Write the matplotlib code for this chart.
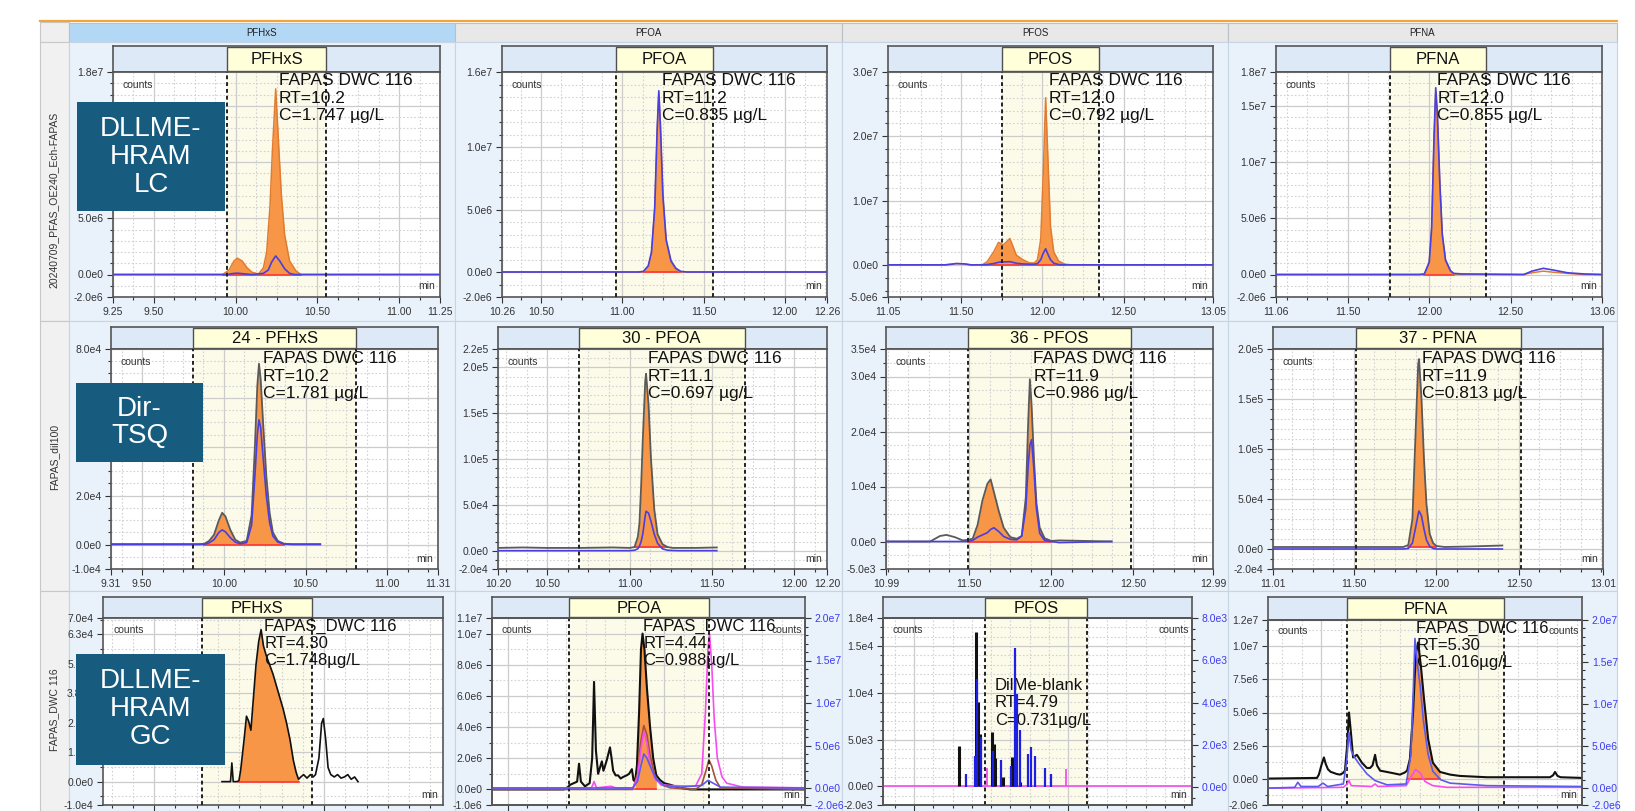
import numpy as np
import matplotlib.pyplot as plt
from matplotlib.patches import Rectangle
from matplotlib.ticker import FixedLocator, MultipleLocator, FuncFormatter, FormatStrFormatter

plt.rcParams['font.family'] = ['Liberation Sans', 'DejaVu Sans']

W, H = 1635, 811

# ---------------- text / labels ----------------
col_headers = ['PFHxS', 'PFOA', 'PFOS', 'PFNA']
row_headers = ['20240709_PFAS_OE240_Ech-FAPAS', 'FAPAS_dil100', 'FAPAS_DWC 116']
method_labels = ['DLLME-\nHRAM\nLC', 'Dir-\nTSQ', 'DLLME-\nHRAM\nGC']
panel_titles = [['PFHxS', 'PFOA', 'PFOS', 'PFNA'],
                ['24 - PFHxS', '30 - PFOA', '36 - PFOS', '37 - PFNA'],
                ['PFHxS', 'PFOA', 'PFOS', 'PFNA']]
sample_names = [['FAPAS DWC 116'] * 4,
                ['FAPAS DWC 116'] * 4,
                ['FAPAS_DWC 116', 'FAPAS_DWC 116', 'DilMe-blank', 'FAPAS_DWC 116']]
rt_labels = [['10.2', '11.2', '12.0', '12.0'],
             ['10.2', '11.1', '11.9', '11.9'],
             ['4.30', '4.44', '4.79', '5.30']]
conc_labels = [['1.747 µg/L', '0.835 µg/L', '0.792 µg/L', '0.855 µg/L'],
               ['1.781 µg/L', '0.697 µg/L', '0.986 µg/L', '0.813 µg/L'],
               ['1.748µg/L', '0.988µg/L', '0.731µg/L', '1.016µg/L']]

# ---------------- axes ranges ----------------
x_ranges = [[(9.25, 11.25), (10.26, 12.26), (11.05, 13.05), (11.06, 13.06)],
            [(9.31, 11.31), (10.20, 12.20), (10.99, 12.99), (11.01, 13.01)],
            [(3.85, 4.85), (3.95, 4.95), (4.40, 5.40), (4.83, 5.83)]]
x_ticks = [[[9.25, 9.50, 10.00, 10.50, 11.00, 11.25], [10.26, 10.50, 11.00, 11.50, 12.00, 12.26],
            [11.05, 11.50, 12.00, 12.50, 13.05], [11.06, 11.50, 12.00, 12.50, 13.06]],
           [[9.31, 9.50, 10.00, 10.50, 11.00, 11.31], [10.20, 10.50, 11.00, 11.50, 12.00, 12.20],
            [10.99, 11.50, 12.00, 12.50, 12.99], [11.01, 11.50, 12.00, 12.50, 13.01]],
           [[4.0, 4.5], [4.0, 4.5], [4.5, 5.0], [5.0, 5.5]]]
windows = [[(9.95, 10.55), (10.96, 11.56), (11.75, 12.35), (11.76, 12.35)],
           [(9.81, 10.81), (10.69, 11.70), (11.49, 12.49), (11.51, 12.51)],
           [(4.14, 4.465), (4.196, 4.643), (4.73, 5.06), (5.082, 5.582)]]
y_ranges = [[(-2e6, 1.8e7), (-2e6, 1.6e7), (-5e6, 3e7), (-2e6, 1.8e7)],
            [(-1e4, 8e4), (-2e4, 2.2e5), (-5e3, 3.5e4), (-2e4, 2e5)],
            [(-1e4, 7e4), (-1e6, 1.1e7), (-2e3, 1.8e4), (-2e6, 1.2e7)]]
y_ticks = [[[-2e6, 0, 5e6, 1e7, 1.5e7, 1.8e7], [-2e6, 0, 5e6, 1e7, 1.6e7],
            [-5e6, 0, 1e7, 2e7, 3e7], [-2e6, 0, 5e6, 1e7, 1.5e7, 1.8e7]],
           [[-1e4, 0, 2e4, 4e4, 6e4, 8e4], [-2e4, 0, 5e4, 1e5, 1.5e5, 2e5, 2.2e5],
            [-5e3, 0, 1e4, 2e4, 3e4, 3.5e4], [-2e4, 0, 5e4, 1e5, 1.5e5, 2e5]],
           [[-1e4, 0, 1.26e4, 2.52e4, 3.78e4, 5.04e4, 6.3e4, 7e4], [-1e6, 0, 2e6, 4e6, 6e6, 8e6, 1e7, 1.1e7],
            [-2e3, 0, 5e3, 1e4, 1.5e4, 1.8e4], [-2e6, 0, 2.5e6, 5e6, 7.5e6, 1e7, 1.2e7]]]
y_minor = [[1e6, 1e6, 2e6, 1e6], [5e3, 1e4, 2.5e3, 1e4], [6.3e3, 1e6, 1e3, 1.25e6]]
x_minor = [0.125, 0.125, 0.0625]
right_ranges = [None, (-2e6, 2e7), (-0.83e3, 8e3), (-2e6, 2e7)]
right_ticks = [None, [-2e6, 0, 5e6, 1e7, 1.5e7, 2e7], [0, 2e3, 4e3, 6e3, 8e3], [-2e6, 0, 5e6, 1e7, 1.5e7, 2e7]]
right_minor = [None, 1e6, 5e2, 1e6]

# integration windows (orange area) and their baselines
fill_ranges = [[(9.92, 10.40), (11.13, 11.36), (11.63, 12.14), (11.97, 12.15)],
               [(9.88, 10.37), (11.03, 11.23), (11.49, 12.00), (11.83, 12.00)],
               [(4.25, 4.425), (4.407, 4.475), None, (5.273, 5.378)]]
fill_base = [[0, 0, 0, 0], [0, 3.5e3, 0, 2e3], [0, 0, 0, 0]]

# ---------------- traces (time, intensity) ----------------
# row 1 : DLLME-HRAM LC  (units 1e6)
lc_pfhxs_q = np.array([(9.25, 0), (9.90, 0), (9.92, 0), (9.96, 0.4), (9.99, 1.2), (10.01, 1.45), (10.04, 1.2),
                       (10.07, 0.6), (10.10, 0.2), (10.14, 0.05), (10.17, 0.6), (10.19, 2.0), (10.21, 6.0),
                       (10.225, 11.0), (10.245, 16.5), (10.265, 11.0), (10.28, 7.0), (10.30, 3.5), (10.33, 1.2),
                       (10.37, 0.3), (10.40, 0), (10.42, 0), (11.25, 0)])
lc_pfhxs_i = np.array([(9.25, 0), (9.95, 0), (9.98, 0.08), (10.01, 0.12), (10.05, 0.06), (10.10, 0), (10.17, 0.1),
                       (10.20, 0.4), (10.22, 1.1), (10.245, 1.65), (10.27, 1.2), (10.30, 0.5), (10.33, 0.1),
                       (10.36, 0), (11.25, 0)])
lc_pfoa_q = np.array([(10.26, 0), (11.10, 0), (11.13, 0), (11.16, 0.4), (11.18, 1.5), (11.20, 5.0), (11.215, 11.0),
                      (11.225, 14.3), (11.235, 11.5), (11.25, 6.0), (11.27, 2.5), (11.30, 0.8), (11.33, 0.2),
                      (11.36, 0), (11.40, 0), (12.26, 0)])
lc_pfoa_i = np.array([(10.26, 0), (11.10, 0), (11.13, 0.05), (11.16, 0.5), (11.18, 1.6), (11.20, 5.2), (11.215, 11.5),
                      (11.225, 14.5), (11.235, 11.7), (11.25, 6.2), (11.27, 2.6), (11.30, 0.9), (11.33, 0.3),
                      (11.36, 0.05), (11.40, 0), (12.26, 0)])
lc_pfos_q = np.array([(11.05, 0), (11.40, 0), (11.44, 0.1), (11.47, 0.2), (11.52, 0.15), (11.56, 0), (11.63, 0),
                      (11.66, 0.5), (11.70, 2.0), (11.73, 3.5), (11.76, 3.1), (11.80, 4.1), (11.84, 1.5),
                      (11.88, 0.8), (11.92, 0.3), (11.95, 0.3), (11.97, 0.8), (11.99, 4.0), (12.005, 14.0),
                      (12.02, 26.0), (12.035, 16.0), (12.05, 6.0), (12.07, 2.0), (12.10, 0.6), (12.14, 0.1),
                      (12.18, 0), (13.05, 0)])
lc_pfos_i = np.array([(11.05, 0), (11.40, 0), (11.44, 0.1), (11.47, 0.2), (11.52, 0.15), (11.56, 0), (11.63, 0),
                      (11.66, 0.05), (11.70, 0.2), (11.73, 0.4), (11.76, 0.45), (11.80, 0.5), (11.84, 0.25),
                      (11.88, 0.15), (11.92, 0.1), (11.95, 0.1), (11.97, 0.2), (11.99, 0.8), (12.005, 1.8),
                      (12.02, 2.5), (12.035, 1.6), (12.05, 0.8), (12.07, 0.25), (12.10, 0.05), (12.14, 0),
                      (12.18, 0), (13.05, 0)])
lc_pfna_q = np.array([(11.06, 0), (11.94, 0), (11.97, 0), (12.00, 1.0), (12.015, 4.0), (12.03, 12.0), (12.04, 16.2),
                      (12.05, 14.0), (12.065, 8.0), (12.08, 3.5), (12.10, 1.2), (12.13, 0.3), (12.15, 0),
                      (12.20, 0), (12.58, 0), (12.63, 0.15), (12.70, 0.3), (12.76, 0.2), (12.85, 0.1),
                      (12.95, 0), (13.06, 0)])
lc_pfna_i = np.array([(11.06, 0), (11.94, 0), (11.97, 0.05), (12.00, 1.1), (12.015, 4.2), (12.03, 12.5),
                      (12.04, 16.6), (12.05, 14.3), (12.065, 8.2), (12.08, 3.6), (12.10, 1.3), (12.13, 0.35),
                      (12.15, 0.1), (12.20, 0.05), (12.58, 0), (12.63, 0.3), (12.70, 0.55), (12.76, 0.4),
                      (12.85, 0.15), (12.95, 0.05), (13.06, 0)])

# row 2 : Dir-TSQ  (units 1e3)
tsq_pfhxs_q = np.array([(9.31, 0.2), (9.60, 0.2), (9.85, 0.2), (9.88, 0.3), (9.91, 1.5), (9.94, 4), (9.97, 10),
                        (9.99, 13), (10.01, 11.5), (10.04, 6), (10.07, 2), (10.10, 0.8), (10.14, 1.5), (10.17, 12),
                        (10.19, 40), (10.205, 65), (10.215, 74), (10.225, 68), (10.24, 50), (10.26, 28),
                        (10.28, 13), (10.30, 5), (10.33, 1.5), (10.37, 0.3), (10.42, 0.2), (10.59, 0.2)])
tsq_pfhxs_i = np.array([(9.31, 0), (9.60, 0), (9.85, 0), (9.88, 0.1), (9.91, 0.7), (9.94, 2), (9.97, 5), (9.99, 6),
                        (10.01, 5.2), (10.04, 2.8), (10.07, 1), (10.10, 0.3), (10.14, 0.8), (10.17, 8), (10.19, 28),
                        (10.205, 45), (10.215, 51), (10.225, 48), (10.24, 36), (10.26, 20), (10.28, 9),
                        (10.30, 3.5), (10.33, 1), (10.37, 0.2), (10.42, 0), (10.59, 0)])
tsq_pfoa_q = np.array([(10.20, 3), (10.35, 3.5), (10.50, 3), (10.70, 3), (10.90, 3.5), (11.00, 3), (11.03, 4),
                       (11.05, 15), (11.06, 30), (11.07, 70), (11.08, 120), (11.095, 185), (11.10, 193),
                       (11.115, 160), (11.13, 100), (11.15, 45), (11.17, 18), (11.20, 7), (11.23, 4), (11.26, 3),
                       (11.30, 3), (11.40, 3), (11.53, 3.5)])
tsq_pfoa_i = np.array([(10.20, 0), (10.35, 0), (10.50, 0), (10.70, 0), (10.90, 0), (11.00, 0), (11.03, 0.5),
                       (11.05, 2), (11.06, 5), (11.07, 10), (11.08, 18), (11.095, 38), (11.10, 43), (11.115, 41),
                       (11.13, 32), (11.15, 18), (11.17, 8), (11.20, 2), (11.23, 0.5), (11.26, 0.2), (11.30, 0),
                       (11.40, 0), (11.53, 0)])
tsq_pfos_q = np.array([(10.99, 0), (11.26, 0), (11.32, 1.0), (11.36, 1.2), (11.41, 0.8), (11.46, 0.2), (11.49, 0.3),
                       (11.52, 0.5), (11.55, 3), (11.58, 7.5), (11.61, 10.5), (11.63, 11.3), (11.65, 9),
                       (11.68, 5.5), (11.71, 2.5), (11.75, 0.8), (11.79, 0.5), (11.82, 1), (11.845, 8),
                       (11.86, 22), (11.87, 29.5), (11.88, 25), (11.895, 15), (11.91, 7), (11.93, 2.5),
                       (11.96, 0.6), (12.00, 0.1), (12.05, 0.2), (12.37, 0)])
tsq_pfos_i = np.array([(10.99, 0), (11.26, 0), (11.32, 0), (11.36, 0), (11.41, 0), (11.46, 0), (11.49, 0),
                       (11.52, 0.2), (11.55, 0.8), (11.58, 1.2), (11.61, 1.6), (11.63, 2.2), (11.65, 2.5),
                       (11.68, 1.8), (11.71, 0.9), (11.75, 0.4), (11.79, 0.3), (11.82, 1), (11.845, 6),
                       (11.86, 14), (11.87, 17.5), (11.88, 18.5), (11.895, 13), (11.91, 6), (11.93, 1.5),
                       (11.96, 0.2), (12.00, 0), (12.05, -0.2), (12.37, 0)])
tsq_pfna_q = np.array([(11.01, 2), (11.30, 2), (11.60, 2), (11.80, 2), (11.83, 4), (11.855, 30), (11.875, 120),
                       (11.89, 185), (11.895, 190), (11.91, 150), (11.925, 90), (11.94, 45), (11.96, 15),
                       (11.98, 6), (12.00, 3), (12.05, 2), (12.20, 2.5), (12.40, 3.5)])
tsq_pfna_i = np.array([(11.01, 0), (11.30, 0), (11.60, 0), (11.80, 0), (11.83, 0.5), (11.855, 6), (11.875, 22),
                       (11.89, 35), (11.895, 38), (11.91, 33), (11.925, 20), (11.94, 9), (11.96, 2.5),
                       (11.98, 0.5), (12.00, 0), (12.05, 0), (12.20, 0), (12.40, 0)])

# row 3 : DLLME-HRAM GC
gc_pfhxs = np.array([(4.20, 0), (4.225, 0), (4.229, 8), (4.233, 0), (4.245, 0), (4.25, 0.5), (4.255, 5),
                     (4.265, 18), (4.272, 28), (4.278, 26), (4.285, 22), (4.292, 35), (4.30, 50), (4.308, 60),
                     (4.315, 65), (4.322, 58), (4.33, 54), (4.34, 50), (4.35, 46), (4.36, 41), (4.37, 36),
                     (4.38, 31), (4.39, 25), (4.40, 18), (4.41, 9), (4.418, 4), (4.425, 1), (4.432, 2), (4.44, 3),
                     (4.45, 1.5), (4.46, 3), (4.468, 2), (4.475, 3), (4.485, 10), (4.493, 25), (4.498, 27),
                     (4.505, 18), (4.512, 6), (4.52, 3), (4.53, 2), (4.54, 3), (4.55, 1.5), (4.56, 2), (4.57, 3),
                     (4.58, 1), (4.59, 2), (4.60, 0)])  # 1e3
gc_pfoa_black = np.array([(3.95, 0), (4.18, 0), (4.19, 0.1), (4.20, 0.3), (4.222, 0.5), (4.228, 1.65), (4.234, 0.5),
                          (4.247, 0.2), (4.262, 0.4), (4.270, 2.0), (4.276, 6.9), (4.282, 2.5), (4.289, 1.0),
                          (4.295, 1.4), (4.301, 1.8), (4.306, 1.2), (4.311, 1.5), (4.317, 1.9), (4.322, 2.3),
                          (4.327, 2.7), (4.332, 2.0), (4.337, 1.2), (4.345, 0.9), (4.353, 0.9), (4.361, 0.7),
                          (4.369, 0.8), (4.380, 0.9), (4.388, 1.0), (4.397, 1.3), (4.402, 0.6), (4.407, 0.5),
                          (4.413, 1.5), (4.42, 5.0), (4.426, 9.0), (4.431, 10.0), (4.437, 9.0), (4.445, 6.5),
                          (4.455, 4.0), (4.465, 2.0), (4.475, 0.9), (4.487, 0.6), (4.50, 0.4), (4.519, 0.3),
                          (4.551, 0.1), (4.583, 0), (4.95, 0)])  # 1e6
gc_pfoa_brown = np.array([(3.95, 0), (4.40, 0), (4.415, 1.0), (4.425, 3.0), (4.435, 4.1), (4.445, 3.5), (4.455, 2.2),
                          (4.47, 0.9), (4.49, 0.3), (4.52, 0.1), (4.60, 0), (4.62, 0.3), (4.635, 1.3), (4.643, 1.9),
                          (4.652, 1.5), (4.665, 0.6), (4.68, 0.1), (4.95, 0)])
gc_pfoa_pink = np.array([(3.95, 0.1), (4.268, 0.1), (4.276, 0.5), (4.284, 0.1), (4.33, 0.2), (4.345, 0.1), (4.40, 0.1),
                         (4.415, 0.8), (4.425, 2.5), (4.435, 3.7), (4.445, 3.0), (4.455, 1.6), (4.47, 0.7),
                         (4.49, 0.3), (4.52, 0.25), (4.60, 0.2), (4.62, 1.0), (4.632, 5.0), (4.64, 9.0),
                         (4.645, 10.0), (4.652, 8.0), (4.66, 4.5), (4.67, 2.0), (4.685, 0.8), (4.70, 0.4),
                         (4.75, 0.15), (4.95, 0.1)])
gc_pfoa_blue = np.array([(3.95, 0), (4.40, 0), (4.415, 0.8), (4.425, 2.5), (4.435, 4.0), (4.445, 3.5), (4.46, 2.2),
                         (4.475, 1.0), (4.50, 0.3), (4.55, 0.1), (4.62, 0.3), (4.64, 0.9), (4.655, 0.6),
                         (4.68, 0.1), (4.95, 0)])  # right axis, 1e6
gc_pfos_black_t = [4.646, 4.701, 4.706, 4.714, 4.753, 4.758, 4.762, 4.788, 4.817, 4.822, 4.827, 4.843]
gc_pfos_black_h = [4.3, 16.5, 9.0, 5.6, 5.8, 4.5, 3.0, 1.0, 3.1, 2.5, 2.0, 0.5]  # 1e3
gc_pfos_blue_t = [4.669, 4.698, 4.704, 4.717, 4.756, 4.782, 4.814, 4.827, 4.834, 4.843, 4.869, 4.879, 4.892,
                  4.924, 4.944]
gc_pfos_blue_h = [0.65, 1.5, 5.1, 2.4, 1.7, 1.3, 1.0, 6.6, 4.4, 2.7, 1.6, 1.9, 1.5, 0.9, 0.65]  # right, 1e3
gc_pfos_pink_t = [4.737, 4.992]
gc_pfos_pink_h = [2.0, 1.8]  # 1e3
gc_pfna_black = np.array([(4.83, 0), (4.986, 0.05), (4.992, 0.3), (5.000, 1.0), (5.008, 1.6), (5.014, 1.1),
                          (5.021, 0.7), (5.030, 0.5), (5.037, 0.45), (5.048, 0.35), (5.059, 0.3), (5.068, 0.4),
                          (5.075, 0.6), (5.082, 2.5), (5.088, 5.0), (5.094, 3.5), (5.101, 1.6), (5.107, 1.7),
                          (5.113, 1.8), (5.121, 1.5), (5.129, 1.2), (5.137, 1.0), (5.145, 0.8), (5.155, 0.8),
                          (5.163, 1.0), (5.171, 1.8), (5.177, 1.0), (5.187, 0.6), (5.209, 0.5), (5.230, 0.4),
                          (5.250, 0.3), (5.265, 0.45), (5.273, 0.6), (5.282, 1.5), (5.292, 5.0), (5.301, 9.5),
                          (5.308, 10.3), (5.317, 8.5), (5.327, 6.0), (5.340, 3.0), (5.355, 1.2), (5.378, 0.5),
                          (5.41, 0.3), (5.441, 0.2), (5.527, 0.1), (5.728, 0.1), (5.738, 0.25), (5.744, 0.5),
                          (5.752, 0.2), (5.762, 0.1), (5.83, 0.05)])  # 1e6
gc_pfna_blue = np.array([(4.83, 0), (4.915, 0.1), (4.925, 0.7), (4.935, 0.2), (4.99, 0.2), (5.005, 0.6), (5.02, 0.2),
                         (5.07, 0.5), (5.08, 3.0), (5.088, 6.6), (5.095, 4.5), (5.105, 3.7), (5.12, 2.9),
                         (5.145, 1.7), (5.171, 0.9), (5.209, 0.4), (5.27, 0.5), (5.285, 4.0), (5.293, 12.0),
                         (5.298, 17.8), (5.305, 15.0), (5.315, 12.0), (5.325, 8.0), (5.34, 4.0), (5.355, 2.0),
                         (5.38, 1.0), (5.41, 0.6), (5.527, 0.3), (5.83, 0.2)])  # right, 1e6
gc_pfna_pink = np.array([(4.83, 0), (5.07, 0.1), (5.082, 0.5), (5.088, 0.9), (5.095, 0.3), (5.16, 0.2), (5.171, 0.5),
                         (5.18, 0.2), (5.27, 0.3), (5.288, 1.5), (5.30, 2.2), (5.315, 1.8), (5.33, 0.8),
                         (5.355, 0.3), (5.40, 0.1), (5.83, 0.1)])  # right, 1e6

# ---------------- layout (pixels) ----------------
frames = [[(113, 72, 440, 297), (502, 72, 827, 297), (888, 72, 1213, 297), (1276, 72, 1602, 297)],
          [(111, 349, 438, 569), (498, 349, 827, 569), (886, 349, 1213, 569), (1273, 349, 1603, 569)],
          [(103, 618, 443, 805), (492, 618, 805, 805), (883, 618, 1192, 805), (1268, 620, 1582, 805)]]
strip_tops = [46, 327, 597]
col_edges = [69, 455, 842, 1228, 1617]
row_edges = [42, 321, 591, 811]
row_label_y = [200, 457, 710]
box_rects = [(77, 102, 225, 211), (76, 383, 203, 462), (76, 654, 225, 765)]
ann_x = [[10.265, 11.245, 12.04, 12.05], [10.24, 11.11, 11.89, 11.91], [4.324, 4.434, 4.762, 5.302]]
ann_y = [[0.995] * 4, [0.99] * 4, [0.998, 0.998, 0.68, 0.998]]
ann_size = [12.5, 12.5, 12]

ORANGE = '#f79646'
BLUE = '#4a3fde'
PINK = '#f64cf0'
BROWN = '#a0523c'


def sci(v, pos=None):
    if v == 0:
        return '0.0e0'
    e = int(np.floor(np.log10(abs(v)) + 1e-9))
    return f'{v / 10 ** e:.1f}e{e}'


fig = plt.figure(figsize=(W / 100, H / 100), dpi=100)


def px_axes(x0, y0, x1, y1):
    return fig.add_axes([x0 / W, 1 - y1 / H, (x1 - x0) / W, (y1 - y0) / H])


# background: headers and cells
bg = fig.add_axes([0, 0, 1, 1])
bg.set_xlim(0, W)
bg.set_ylim(H, 0)
bg.axis('off')
bg.plot([40, col_edges[-1]], [21, 21], color='#f2a53c', lw=1.6)
bg.add_patch(Rectangle((40, 22), 29, 20, facecolor='#efefef', edgecolor='#c8c8c8', lw=0.8))
for i, name in enumerate(col_headers):
    fc = '#b3d8f6' if i == 0 else '#e8e8e8'
    bg.add_patch(Rectangle((col_edges[i], 23), col_edges[i + 1] - col_edges[i], 19,
                           facecolor=fc, edgecolor='#b8c0c8', lw=0.8))
    bg.text((col_edges[i] + col_edges[i + 1]) / 2, 32.5, name, ha='center', va='center', fontsize=7,
            color='#222')
for j, name in enumerate(row_headers):
    bg.add_patch(Rectangle((40, row_edges[j]), 29, row_edges[j + 1] - row_edges[j],
                           facecolor='#f1f1f1', edgecolor='#c8c8c8', lw=0.8))
    bg.text(54, row_label_y[j], name, rotation=90, ha='center', va='center', fontsize=7.5, color='#333')
    for i in range(4):
        bg.add_patch(Rectangle((col_edges[i], row_edges[j]), col_edges[i + 1] - col_edges[i],
                               row_edges[j + 1] - row_edges[j], facecolor='#e9f1fb', edgecolor='#c6d4e4', lw=0.8))


def setup_panel(r, c):
    x0, y0, x1, y1 = frames[r][c]
    st = px_axes(x0, strip_tops[r], x1, y0)
    ax = px_axes(x0, y0, x1, y1)
    d0, d1 = windows[r][c]
    st.set_xlim(x_ranges[r][c])
    st.set_ylim(0, 1)
    st.set_facecolor('#dde9f7')
    st.set_xticks([])
    st.set_yticks([])
    st.add_patch(Rectangle((d0, 0.03), d1 - d0, 0.92, facecolor='#ffffda', edgecolor='#505050', lw=1.0))
    st.text((d0 + d1) / 2, 0.47, panel_titles[r][c], ha='center', va='center', fontsize=12, color='#111')
    for sp in st.spines.values():
        sp.set_color('#555555')
        sp.set_linewidth(1.2)

    ax.set_xlim(x_ranges[r][c])
    ax.set_ylim(y_ranges[r][c])
    ax.axvspan(d0, d1, color='#fcfae9', lw=0, zorder=0)
    ax.set_axisbelow(True)
    ax.xaxis.set_major_locator(FixedLocator(x_ticks[r][c]))
    ax.xaxis.set_major_formatter(FormatStrFormatter('%.2f'))
    ax.xaxis.set_minor_locator(MultipleLocator(x_minor[r]))
    ax.yaxis.set_major_locator(FixedLocator(y_ticks[r][c]))
    ax.yaxis.set_major_formatter(FuncFormatter(sci))
    ax.yaxis.set_minor_locator(MultipleLocator(y_minor[r][c]))
    ax.grid(True, which='major', color='#cccccc', lw=0.9)
    ax.grid(True, which='minor', color='#d2d2d2', lw=0.8, ls=(0, (1.5, 1.8)))
    ax.tick_params(which='both', direction='out', labelsize=7.5, colors='#333333', width=0.8)
    ax.tick_params(which='major', length=4.5, pad=2.5)
    ax.tick_params(which='minor', length=2.5)
    if r == 2:
        ax.tick_params(labelbottom=False)
    for sp in ax.spines.values():
        sp.set_color('#555555')
        sp.set_linewidth(1.2)
    for d in (d0, d1):
        ax.axvline(d, color='#222222', lw=1.4, ls=(0, (2, 1.5)), zorder=5)
    ax.text(0.03, 0.965, 'counts', transform=ax.transAxes, fontsize=7.5, va='top', color='#333')
    ax.text(0.985, 0.025, 'min', transform=ax.transAxes, fontsize=7.5, ha='right', va='bottom', color='#333')
    ax.text(ann_x[r][c], ann_y[r][c], f'{sample_names[r][c]}\nRT={rt_labels[r][c]}\nC={conc_labels[r][c]}',
            transform=ax.get_xaxis_transform(), fontsize=ann_size[r], va='top', ha='left', color='#111',
            zorder=8, linespacing=1.2)
    return ax


def right_axis(ax, c):
    tw = ax.twinx()
    tw.set_ylim(right_ranges[c])
    tw.yaxis.set_major_locator(FixedLocator(right_ticks[c]))
    tw.yaxis.set_major_formatter(FuncFormatter(sci))
    tw.yaxis.set_minor_locator(MultipleLocator(right_minor[c]))
    tw.tick_params(which='both', direction='out', labelsize=7.5, color='#333333', labelcolor='#3c3cf0', width=0.8)
    tw.tick_params(which='major', length=4.5, pad=2.5)
    tw.tick_params(which='minor', length=2.5)
    for sp in tw.spines.values():
        sp.set_color('#555555')
        sp.set_linewidth(1.2)
    tw.text(0.99, 0.965, 'counts', transform=tw.transAxes, fontsize=7.5, ha='right', va='top', color='#333')
    return tw


def chrom(ax, quant, scale, fill, base, qcolor, qlw):
    t, y = quant[:, 0], quant[:, 1] * scale
    if fill is not None:
        m = (t >= fill[0] - 1e-9) & (t <= fill[1] + 1e-9)
        ax.fill_between(t[m], base, y[m], color=ORANGE, lw=0, zorder=2)
        ax.plot(fill, [base, base], color='#ff3434', lw=1.2, zorder=3)
    ax.plot(t, y, color=qcolor, lw=qlw, zorder=3)


# rows 1 and 2: quantifier + qualifier traces
lc_pairs = [(lc_pfhxs_q, lc_pfhxs_i), (lc_pfoa_q, lc_pfoa_i), (lc_pfos_q, lc_pfos_i), (lc_pfna_q, lc_pfna_i)]
tsq_pairs = [(tsq_pfhxs_q, tsq_pfhxs_i), (tsq_pfoa_q, tsq_pfoa_i), (tsq_pfos_q, tsq_pfos_i),
             (tsq_pfna_q, tsq_pfna_i)]
for r, (pairs, scale, qcol) in enumerate([(lc_pairs, 1e6, '#e07c32'), (tsq_pairs, 1e3, '#5a5a5a')]):
    for c, (q, i) in enumerate(pairs):
        ax = setup_panel(r, c)
        chrom(ax, q, scale, fill_ranges[r][c], fill_base[r][c], qcol, 1.1 if r == 0 else 1.3)
        ax.plot(i[:, 0], i[:, 1] * scale, color=BLUE, lw=1.2, zorder=4)

# row 3: GC
ax = setup_panel(2, 0)
chrom(ax, gc_pfhxs, 1e3, fill_ranges[2][0], 0, '#111111', 1.2)

ax = setup_panel(2, 1)
chrom(ax, gc_pfoa_black, 1e6, fill_ranges[2][1], 0, '#111111', 1.5)
ax.plot(gc_pfoa_brown[:, 0], gc_pfoa_brown[:, 1] * 1e6, color=BROWN, lw=1.2, zorder=4)
ax.plot(gc_pfoa_pink[:, 0], gc_pfoa_pink[:, 1] * 1e6, color=PINK, lw=1.2, zorder=4)
tw = right_axis(ax, 1)
tw.plot(gc_pfoa_blue[:, 0], gc_pfoa_blue[:, 1] * 1e6, color='#5a5af0', lw=1.2)

ax = setup_panel(2, 2)
ax.axhline(0, color=PINK, lw=1.2, zorder=3)
ax.vlines(gc_pfos_black_t, 0, np.array(gc_pfos_black_h) * 1e3, color='#111111', lw=2.2, zorder=4)
ax.vlines(gc_pfos_pink_t, 0, np.array(gc_pfos_pink_h) * 1e3, color=PINK, lw=1.3, zorder=4)
tw = right_axis(ax, 2)
tw.vlines(gc_pfos_blue_t, 0, np.array(gc_pfos_blue_h) * 1e3, color='#1f1fe0', lw=1.6)

ax = setup_panel(2, 3)
chrom(ax, gc_pfna_black, 1e6, fill_ranges[2][3], 0, '#111111', 1.5)
tw = right_axis(ax, 3)
tw.plot(gc_pfna_pink[:, 0], gc_pfna_pink[:, 1] * 1e6, color=PINK, lw=1.2)
tw.plot(gc_pfna_blue[:, 0], gc_pfna_blue[:, 1] * 1e6, color='#5a5af0', lw=1.2)

# method label boxes on top
top = fig.add_axes([0, 0, 1, 1])
top.set_xlim(0, W)
top.set_ylim(H, 0)
top.axis('off')
for (bx0, by0, bx1, by1), lab in zip(box_rects, method_labels):
    top.add_patch(Rectangle((bx0, by0), bx1 - bx0, by1 - by0, facecolor='#175c7f', edgecolor='none'))
    top.text((bx0 + bx1) / 2, (by0 + by1) / 2, lab, ha='center', va='center', color='white', fontsize=20,
             linespacing=1.1)

fig.savefig('out.png', dpi=100)
